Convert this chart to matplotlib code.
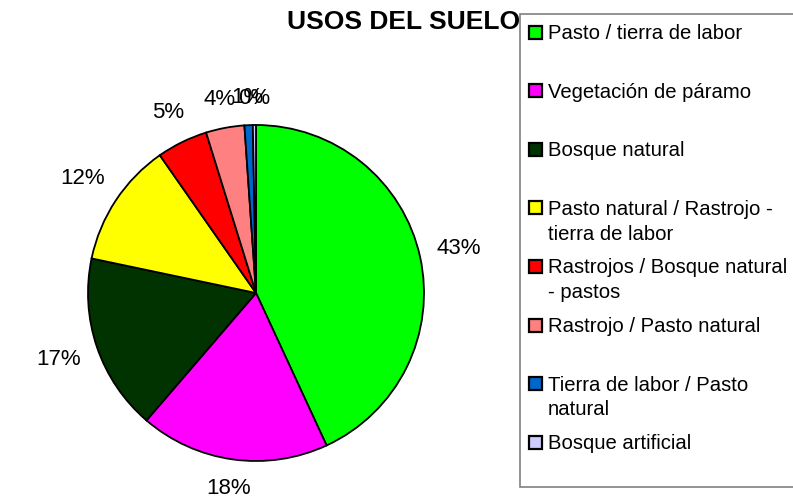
import numpy as np
import matplotlib.pyplot as plt
from matplotlib.patches import Rectangle

plt.rcParams['font.family'] = ['Liberation Sans', 'DejaVu Sans']

# Data
categorias = [
    "Pasto / tierra de labor",
    "Vegetación de páramo",
    "Bosque natural",
    "Pasto natural / Rastrojo -\ntierra de labor",
    "Rastrojos / Bosque natural\n- pastos",
    "Rastrojo / Pasto natural",
    "Tierra de labor / Pasto\nnatural",
    "Bosque artificial",
]
porcentajes = [43.1, 18.2, 17.0, 12.0, 4.9, 3.7, 0.8, 0.3]
colores = ["#00FF00", "#FF00FF", "#003300", "#FFFF00",
           "#FF0000", "#FF8080", "#0066CC", "#CCCCFF"]

W, H = 793, 497
fig = plt.figure(figsize=(W / 100, H / 100), dpi=100)

# Pie axes: center (256, 293) px, radius 168 px
cx, cy, r = 256, 293, 168
ax = fig.add_axes([(cx - r) / W, 1 - (cy + r) / H, 2 * r / W, 2 * r / H])
wedges, _, autotexts = ax.pie(
    porcentajes, colors=colores, startangle=90, counterclock=False,
    autopct='%.0f%%', pctdistance=1.2, radius=1,
    wedgeprops=dict(edgecolor='black', linewidth=1.3),
    textprops=dict(fontsize=16, color='black'))
ax.set_xlim(-1, 1)
ax.set_ylim(-1, 1)
ax.set_aspect('auto')
ax.axis('off')

# place labels just outside the rim, with a fixed gap to the text box
renderer = fig.canvas.get_renderer()
gap = 16
for w, t in zip(wedges, autotexts):
    ang = np.deg2rad((w.theta1 + w.theta2) / 2)
    bb = t.get_window_extent(renderer)
    half = abs(np.cos(ang)) * bb.width / 2 + abs(np.sin(ang)) * bb.height / 2
    d = (r + gap + half) / r
    t.set_position((d * np.cos(ang), d * np.sin(ang)))

fig.text(404 / W, 1 - 22 / H, "USOS DEL SUELO", ha='center', va='center',
         fontsize=19, fontweight='bold', zorder=2)

# Legend drawn manually in fixed slots
fig.patches.append(Rectangle((520 / W, 1 - 487 / H), 290 / W, 473 / H,
                             transform=fig.transFigure, facecolor='white',
                             edgecolor='#808080', linewidth=1.2, clip_on=False,
                             zorder=4))
step = 58.6
for i, (lab, col) in enumerate(zip(categorias, colores)):
    y = 32 + i * step
    fig.patches.append(Rectangle((528.5 / W, 1 - (y + 6.5) / H), 13 / W, 13 / H,
                                 transform=fig.transFigure, facecolor=col,
                                 edgecolor='black', linewidth=1.6, zorder=5))
    fig.text(548 / W, 1 - (y - 8) / H, lab, ha='left', va='top',
             fontsize=14.6, linespacing=1.38, zorder=5)

fig.savefig("out.png", dpi=100)
